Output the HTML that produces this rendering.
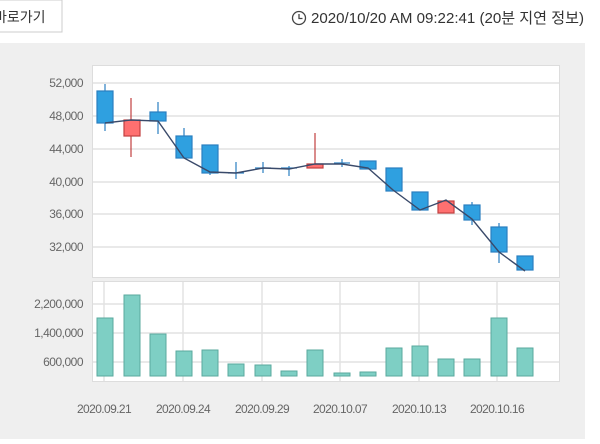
<!DOCTYPE html>
<html><head><meta charset="utf-8"><style>
body{margin:0;width:600px;height:439px;background:#fff;overflow:hidden;font-family:"Liberation Sans","Noto Sans CJK KR",sans-serif;}
</style></head><body>
<svg width="600" height="439" xmlns="http://www.w3.org/2000/svg" font-family="Liberation Sans, Noto Sans CJK KR, sans-serif">
<rect x="-1" y="0" width="63" height="32" fill="#fff" stroke="#ccc"/>
<text x="-6" y="22" font-size="14" fill="#333">바로가기</text>
<circle cx="299" cy="18" r="6.5" fill="none" stroke="#444" stroke-width="1.3"/>
<path d="M299 14v4.5h3.5" fill="none" stroke="#444" stroke-width="1.3"/>
<text x="311" y="23" font-size="15" fill="#333" textLength="273" lengthAdjust="spacingAndGlyphs">2020/10/20 AM 09:22:41 (20분 지연 정보)</text>
<rect x="0" y="43" width="585" height="396" fill="#efefef"/>
<rect x="92.5" y="65.5" width="467" height="212" fill="#fff" stroke="#ddd"/>
<rect x="92.5" y="281.5" width="467" height="100" fill="#fff" stroke="#ddd"/>
<g stroke="#e2e2e2" stroke-width="1.5">
<line x1="93" x2="559" y1="83" y2="83"/><line x1="93" x2="559" y1="116" y2="116"/><line x1="93" x2="559" y1="149" y2="149"/><line x1="93" x2="559" y1="182" y2="182"/><line x1="93" x2="559" y1="214" y2="214"/><line x1="93" x2="559" y1="247" y2="247"/>
<line x1="93" x2="559" y1="304" y2="304"/><line x1="93" x2="559" y1="333" y2="333"/><line x1="93" x2="559" y1="362" y2="362"/>
<line x1="104" x2="104" y1="282" y2="381"/><line x1="183" x2="183" y1="282" y2="381"/><line x1="262" x2="262" y1="282" y2="381"/><line x1="340" x2="340" y1="282" y2="381"/><line x1="419" x2="419" y1="282" y2="381"/><line x1="497" x2="497" y1="282" y2="381"/>
</g>
<g font-size="12" fill="#666" text-anchor="end" letter-spacing="-0.5">
<text x="83" y="87">52,000</text><text x="83" y="120">48,000</text><text x="83" y="153">44,000</text><text x="83" y="186">40,000</text><text x="83" y="218">36,000</text><text x="83" y="251">32,000</text>
<text x="83" y="308">2,200,000</text><text x="83" y="337">1,400,000</text><text x="83" y="366">600,000</text>
</g>
<g font-size="12" fill="#666" text-anchor="middle" letter-spacing="-0.6">
<text x="104" y="413">2020.09.21</text><text x="183" y="413">2020.09.24</text><text x="262" y="413">2020.09.29</text><text x="340" y="413">2020.10.07</text><text x="419" y="413">2020.10.13</text><text x="497" y="413">2020.10.16</text>
</g>
<g fill="#7ecfc4" stroke="#5aa89e">
<rect x="97" y="318" width="16" height="58"/><rect x="124" y="295" width="16" height="81"/><rect x="150" y="334" width="16" height="42"/><rect x="176" y="351" width="16" height="25"/><rect x="202" y="350" width="16" height="26"/><rect x="228" y="364" width="16" height="12"/><rect x="255" y="365" width="16" height="11"/><rect x="281" y="371" width="16" height="5"/><rect x="307" y="350" width="16" height="26"/><rect x="334" y="373" width="16" height="3"/><rect x="360" y="372" width="16" height="4"/><rect x="386" y="348" width="16" height="28"/><rect x="412" y="346" width="16" height="30"/><rect x="438" y="359" width="16" height="17"/><rect x="464" y="359" width="16" height="17"/><rect x="491" y="318" width="16" height="58"/><rect x="517" y="348" width="16" height="28"/>
</g>
<g stroke-width="1.2">
<g stroke="#2a7fc0" fill="#2fa0e0">
<line x1="105" x2="105" y1="84" y2="131"/><rect x="97" y="91" width="16" height="32"/>
<line x1="158" x2="158" y1="102" y2="134"/><rect x="150" y="112" width="16" height="9"/>
<line x1="184" x2="184" y1="128" y2="158"/><rect x="176" y="136" width="16" height="22"/>
<line x1="210" x2="210" y1="145" y2="175"/><rect x="202" y="145" width="16" height="28"/>
<line x1="236" x2="236" y1="162" y2="179"/><line x1="228" x2="244" y1="173" y2="173"/>
<line x1="263" x2="263" y1="162" y2="173"/><line x1="255" x2="271" y1="168" y2="168"/>
<line x1="289" x2="289" y1="166" y2="176"/><line x1="281" x2="297" y1="168" y2="168"/>
<line x1="342" x2="342" y1="159" y2="167"/><line x1="334" x2="350" y1="163" y2="163"/>
<rect x="360" y="161" width="16" height="8"/>
<rect x="386" y="168" width="16" height="23"/>
<rect x="412" y="192" width="16" height="18"/>
<line x1="472" x2="472" y1="202" y2="225"/><rect x="464" y="205" width="16" height="15"/>
<line x1="499" x2="499" y1="223" y2="263"/><rect x="491" y="227" width="16" height="25"/>
<rect x="517" y="256" width="16" height="14"/>
</g>
<g stroke="#c04040" fill="#ff7070">
<line x1="131" x2="131" y1="98" y2="157"/><rect x="124" y="120" width="16" height="16"/>
<line x1="315" x2="315" y1="133" y2="168"/><rect x="307" y="164" width="16" height="4"/>
<rect x="438" y="201" width="16" height="12"/>
</g>
</g>
<polyline fill="none" stroke="#3a4a6a" stroke-width="1.4" points="105,123 131,120 158,121 184,158 210,172 236,173 263,168 289,169 315,164 342,164 368,168 393,190 420,210 446,200 472,219 499,252 525,271"/>
</svg>
</body></html>
